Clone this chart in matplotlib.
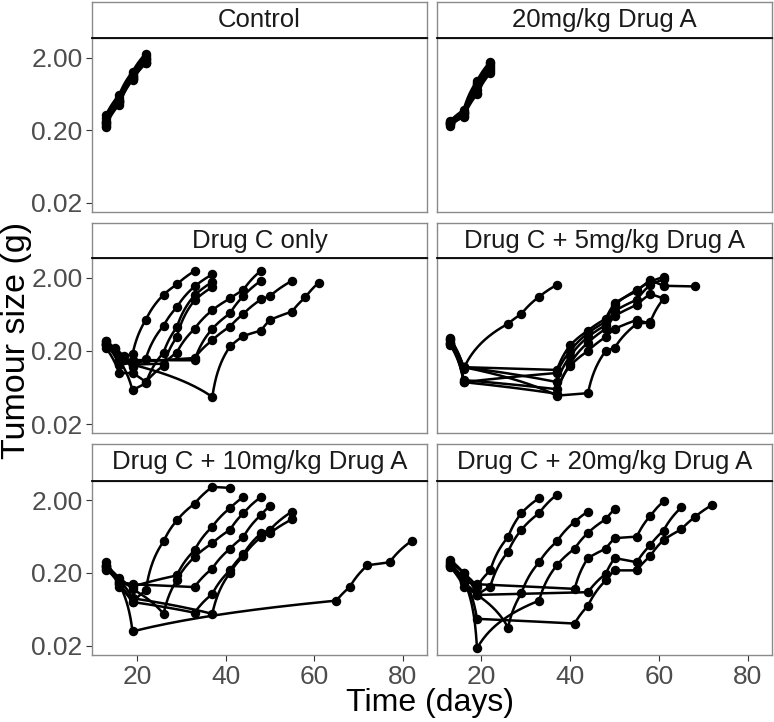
import numpy as np
import matplotlib
matplotlib.use("Agg")
import matplotlib.pyplot as plt
from matplotlib.path import Path
from matplotlib.ticker import NullLocator, FixedFormatter

plt.rcParams['font.family'] = ['Liberation Sans', 'DejaVu Sans']

# ---- data: tumour size (g) per mouse ----
control_days = [13, 16, 19, 22]
control_sizes = [
    [0.32, 0.61, 1.27, 2.27],
    [0.29, 0.55, 1.18, 2.10],
    [0.27, 0.52, 1.10, 1.95],
    [0.26, 0.50, 1.05, 1.85],
    [0.25, 0.48, 1.03, 1.75],
    [0.24, 0.47, 1.00, 1.70],
    [0.23, 0.45, 0.98, 1.66],
    [0.22, 0.50, 1.12, 1.90],
]

drug_a_days = [13, 16, 19, 22]
drug_a_sizes = [
    [0.27, 0.38, 0.95, 1.75],
    [0.26, 0.36, 0.88, 1.60],
    [0.25, 0.34, 0.80, 1.50],
    [0.24, 0.33, 0.72, 1.40],
    [0.23, 0.31, 0.65, 1.30],
    [0.25, 0.30, 0.62, 1.22],
    [0.24, 0.35, 0.85, 1.70],
]

drug_c_days = [
    [13, 15, 17, 19, 22, 26, 29, 33],
    [13, 15, 17, 19, 22, 26, 29, 33, 37],
    [13, 16, 19, 22, 26, 29, 33, 37],
    [13, 16, 19, 22, 26, 29, 33, 37],
    [13, 16, 19, 26, 29, 33, 37, 41, 44, 48],
    [13, 16, 19, 33, 37, 41, 44, 48],
    [13, 16, 19, 33, 37, 41, 44, 48, 50, 55],
    [13, 16, 19, 37, 41, 44, 48, 50, 55, 58, 61],
]
drug_c_sizes = [
    [0.27, 0.22, 0.17, 0.18, 0.53, 1.17, 1.62, 2.47],
    [0.25, 0.21, 0.15, 0.12, 0.157, 0.44, 0.79, 1.52, 2.22],
    [0.24, 0.15, 0.058, 0.072, 0.19, 0.42, 1.15, 1.75],
    [0.22, 0.099, 0.10, 0.075, 0.126, 0.31, 0.98, 1.49],
    [0.26, 0.16, 0.13, 0.134, 0.19, 0.40, 0.72, 1.04, 1.36, 2.50],
    [0.24, 0.15, 0.15, 0.149, 0.40, 0.65, 1.12, 1.82],
    [0.25, 0.13, 0.14, 0.16, 0.28, 0.43, 0.64, 1.01, 1.12, 1.82],
    [0.27, 0.15, 0.13, 0.047, 0.23, 0.32, 0.38, 0.53, 0.69, 1.08, 1.71],
]

c5_days = [
    [13, 16, 26, 29, 33, 37],
    [13, 16, 37, 40, 44, 48, 50, 55, 58, 61, 68],
    [13, 16, 37, 40, 44, 48, 50, 55, 58, 61],
    [13, 16, 37, 40, 44, 48, 50, 55, 58, 61],
    [13, 16, 37, 40, 44, 48, 50, 55, 58, 61],
    [13, 16, 37, 40, 44, 48, 50, 55, 58],
    [13, 16, 37, 44, 48, 50, 55, 58, 61],
]
c5_sizes = [
    [0.29, 0.115, 0.47, 0.64, 1.10, 1.60],
    [0.28, 0.12, 0.11, 0.24, 0.38, 0.55, 0.90, 1.30, 1.84, 1.55, 1.52],
    [0.26, 0.075, 0.10, 0.20, 0.35, 0.50, 0.85, 1.36, 1.77, 2.05],
    [0.25, 0.12, 0.075, 0.17, 0.31, 0.45, 0.70, 1.00, 1.60, 1.90],
    [0.30, 0.075, 0.052, 0.134, 0.26, 0.40, 0.60, 0.85, 1.20, 1.04],
    [0.24, 0.08, 0.06, 0.126, 0.20, 0.31, 0.40, 0.53, 0.47],
    [0.26, 0.12, 0.049, 0.053, 0.20, 0.22, 0.47, 0.49, 1.03],
]

c10_days = [
    [13, 16, 19, 22, 26, 29, 33, 37, 41],
    [13, 16, 19, 29, 33, 37, 41, 44],
    [13, 16, 19, 26, 29, 33, 37, 41, 44, 48],
    [13, 16, 19, 33, 37, 41, 44, 48, 50],
    [13, 16, 19, 33, 37, 41, 44, 48, 50, 55],
    [13, 16, 19, 37, 41, 44, 48, 50, 55],
    [13, 16, 19, 65, 68, 72, 77, 82],
]
c10_sizes = [
    [0.28, 0.13, 0.08, 0.115, 0.54, 1.05, 1.78, 3.03, 2.93],
    [0.26, 0.15, 0.13, 0.185, 0.41, 0.86, 1.55, 2.20],
    [0.25, 0.17, 0.12, 0.055, 0.16, 0.33, 0.51, 0.78, 1.32, 2.20],
    [0.24, 0.15, 0.14, 0.128, 0.23, 0.43, 0.62, 1.25, 1.67],
    [0.23, 0.14, 0.08, 0.057, 0.103, 0.217, 0.36, 0.70, 0.78, 1.39],
    [0.22, 0.16, 0.09, 0.055, 0.20, 0.34, 0.62, 0.70, 1.09],
    [0.25, 0.14, 0.0315, 0.0835, 0.128, 0.255, 0.28, 0.553],
]

c20_days = [
    [13, 16, 19, 22, 26, 29, 33],
    [13, 16, 19, 22, 26, 29, 33, 37],
    [13, 16, 19, 26, 29, 33, 37, 41, 44],
    [13, 16, 19, 33, 37, 41, 44, 48, 50],
    [13, 16, 19, 41, 44, 48, 50, 55, 58, 61],
    [13, 16, 19, 44, 48, 50, 55, 58, 61, 65],
    [13, 16, 19, 41, 44, 48, 50, 55, 58, 61, 65, 68, 72],
]
c20_sizes = [
    [0.28, 0.20, 0.13, 0.217, 0.62, 1.32, 2.13],
    [0.25, 0.15, 0.10, 0.13, 0.39, 0.78, 1.32, 2.37],
    [0.30, 0.20, 0.10, 0.0357, 0.105, 0.28, 0.54, 1.01, 1.39],
    [0.26, 0.16, 0.0185, 0.0835, 0.255, 0.43, 0.71, 1.09, 1.50],
    [0.27, 0.15, 0.14, 0.121, 0.32, 0.43, 0.60, 0.63, 1.21, 1.91],
    [0.24, 0.13, 0.10, 0.109, 0.195, 0.32, 0.28, 0.48, 0.76, 1.58],
    [0.26, 0.17, 0.047, 0.0405, 0.071, 0.158, 0.217, 0.217, 0.34, 0.565, 0.79, 1.16, 1.72],
]

panel_titles = ["Control", "20mg/kg Drug A", "Drug C only", "Drug C + 5mg/kg Drug A",
                "Drug C + 10mg/kg Drug A", "Drug C + 20mg/kg Drug A"]
panel_days = [[control_days] * len(control_sizes), [drug_a_days] * len(drug_a_sizes),
              drug_c_days, c5_days, c10_days, c20_days]
panel_sizes = [control_sizes, drug_a_sizes, drug_c_sizes, c5_sizes, c10_sizes, c20_sizes]

x_ticks = [20, 40, 60, 80]
y_ticks = [0.02, 0.2, 2]
y_tick_labels = ["0.02", "0.20", "2.00"]

# ---- layout (pixels of the 774x722 canvas) ----
W, H = 774, 722
fig = plt.figure(figsize=(W / 100, H / 100), dpi=100)
col_px = [(92.3, 426.7), (436.7, 771.7)]
row_px = [(1.7, 38.3, 211.7), (223.3, 258.3, 433.3), (444.0, 480.7, 655.0)]


def frac(x0, x1, y0, y1):
    return [x0 / W, 1 - y1 / H, (x1 - x0) / W, (y1 - y0) / H]


def draw_mouse(ax, days, sizes):
    # the original uses a log coord transform: segments are straight in linear
    # space and bend on the log axis, so let matplotlib subdivide the path
    p = Path(np.column_stack([days, sizes])).interpolated(40)
    ax.plot(p.vertices[:, 0], p.vertices[:, 1], color='black', lw=1.8,
            solid_capstyle='round', solid_joinstyle='round')
    ax.plot(days, sizes, 'o', color='black', ms=5.8)


border = '#8a8a8a'
for i, title in enumerate(panel_titles):
    r, c = divmod(i, 2)
    x0, x1 = col_px[c]
    st, pt, pb = row_px[r]

    ax = fig.add_axes(frac(x0, x1, pt, pb))
    ax.set_yscale('log')
    for days, sizes in zip(panel_days[i], panel_sizes[i]):
        draw_mouse(ax, days, sizes)
    ax.set_xlim(9.93, 85.36)
    ax.set_ylim(0.0150, 3.68)
    ax.set_xticks(x_ticks)
    ax.set_yticks(y_ticks)
    ax.yaxis.set_minor_locator(NullLocator())
    ax.yaxis.set_major_formatter(FixedFormatter(y_tick_labels))
    for s in ax.spines.values():
        s.set_color(border)
        s.set_linewidth(1.0)
    ax.tick_params(axis='both', direction='out', length=4, width=0.8,
                   color='#333333', labelcolor='#4d4d4d', labelsize=19, pad=3)
    ax.tick_params(axis='y', left=(c == 0), labelleft=(c == 0))
    ax.tick_params(axis='x', bottom=(r == 2), labelbottom=(r == 2))

    sax = fig.add_axes(frac(x0, x1, st, pt))
    sax.set_xticks([])
    sax.set_yticks([])
    for s in sax.spines.values():
        s.set_color(border)
        s.set_linewidth(1.0)
    sax.spines['bottom'].set_color('black')
    sax.spines['bottom'].set_linewidth(1.3)
    sax.text(0.5, 0.5, title, ha='center', va='center', fontsize=18.5,
             color='#1a1a1a', transform=sax.transAxes)

fig.text(16.5 / W, 1 - 340 / H, "Tumour size (g)", rotation=90, ha='center',
         va='center', fontsize=24.5, color='black')
fig.text(430 / W, 1 - 711.5 / H, "Time (days)", ha='center', va='baseline',
         fontsize=23, color='black')

fig.savefig("out.png", dpi=100)
